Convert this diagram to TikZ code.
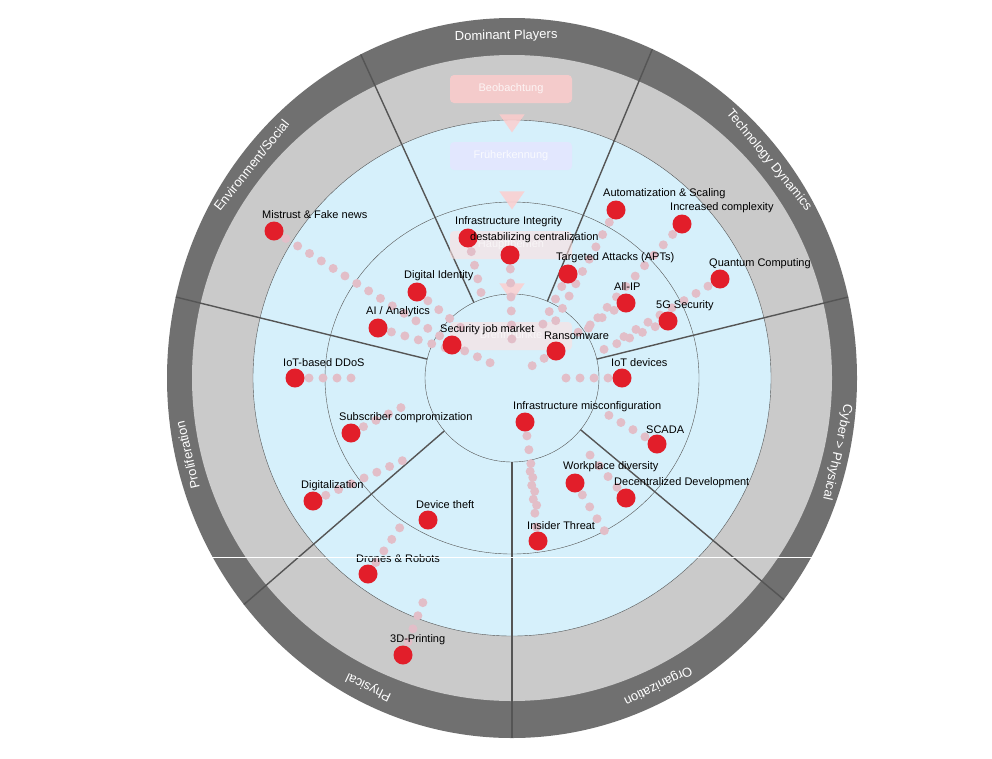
\documentclass[tikz,border=0pt]{standalone}
\usepackage{fontspec}
\setmainfont{Liberation Sans}
\usetikzlibrary{shapes.geometric}

\definecolor{ringdark}{RGB}{112,112,112}
\definecolor{ringlight}{RGB}{202,202,202}
\definecolor{zoneblue}{RGB}{214,240,251}
\definecolor{linegray}{RGB}{85,85,85}
\definecolor{riskred}{RGB}{226,30,42}
\definecolor{trailpink}{RGB}{226,190,200}

\tikzset{
  ringlabel/.style={text=white, font=\fontsize{13}{13}\selectfont},
  risk/.style={circle, fill=riskred, inner sep=0pt, minimum size=19pt},
  risklabel/.style={anchor=west, font=\fontsize{11}{11}\selectfont, inner sep=0pt},
  trail/.style={trailpink, line width=9pt, line cap=round, dash pattern=on 0pt off 14pt},
  stage/.style={rounded corners=4pt, minimum width=122pt, minimum height=28pt, text=white, font=\fontsize{11}{11}\selectfont},
  stagetip/.style={isosceles triangle, shape border rotate=-90, isosceles triangle apex angle=70, inner sep=0pt, minimum size=18pt, fill=red!20, opacity=0.8}
}

\begin{document}
\begin{tikzpicture}[x=1pt, y=-1pt]
  \useasboundingbox (0,0) rectangle (992,758);
  \fill[white] (0,0) rectangle (992,758);

  % rings
  \fill[ringdark] (512,378) ellipse [x radius=345, y radius=360];
  \fill[ringlight] (512,378) ellipse [x radius=320, y radius=323];
  \fill[zoneblue] (512,378) ellipse [x radius=259, y radius=258];
  \draw[linegray, thin] (512,378) ellipse [x radius=259, y radius=258];
  \draw[linegray, thin] (512,378) ellipse [x radius=187, y radius=176];
  \draw[linegray, thin] (512,378) ellipse [x radius=87, y radius=84];

  % sectors
  \foreach \a in {116,66,13,-38,-90,-141,167}
    \draw[linegray, line width=1.4pt] ({512+87*cos(\a)},{378-84*sin(\a)}) -- ({512+345*cos(\a)},{378-360*sin(\a)});

  % sector titles
  \foreach \a/\txt in {91/Dominant Players, 39.5/Technology Dynamics, -12.5/Cyber > Physical,
      -64/Organization, -115.5/Physical, -167/Proliferation, 141.5/{Environment/Social}}
    \node[ringlabel, rotate=\a-90] at ({512+333*cos(\a)},{378-342*sin(\a)}) {\txt};

  % faded process steps
  \node[stage, fill=red!20, opacity=0.8] (beob) at (511,89) {Beobachtung};
  \node[stagetip] (tip1) at (512,121) {};
  \node[stage, fill=blue!10, opacity=0.8] (frueh) at (511,156) {Früherkennung};
  \node[stagetip] (tip2) at (512,198) {};
  \node[stage, fill=red!12, opacity=0.6] (haupt) at (511,245) {Hauptthemen};
  \node[stagetip] (tip3) at (512,290) {};
  \node[stage, fill=red!12, opacity=0.6] (brenn) at (511,336) {Brennpunkte};

  % trails: name / dot / trail end
  \foreach \n/\pos/\fin in {
      mistrust/{274,231}/{462,350}, integrity/{468,238}/{484,305},
      central/{510,255}/{512,345}, scaling/{616,210}/{555,322},
      complex/{682,224}/{585,332}, apt/{568,274}/{540,330},
      quantum/{720,279}/{615,342}, identity/{417,292}/{470,335},
      allip/{626,303}/{572,336}, fiveg/{668,321}/{598,352},
      ai/{378,328}/{446,348}, jobs/{452,345}/{495,365},
      ransom/{556,351}/{522,372}, ddos/{295,378}/{362,378},
      iot/{622,378}/{562,378}, misconf/{525,422}/{538,515},
      subscr/{351,433}/{412,402}, scada/{657,444}/{600,410},
      diversity/{575,483}/{607,535}, decentral/{626,498}/{590,455},
      digital/{313,501}/{415,455}, insider/{538,541}/{530,470},
      drones/{368,574}/{405,520}, printing/{403,655}/{425,597}}
  {
    \coordinate (\n-pos) at (\pos);
    \coordinate (\n-end) at (\fin);
    \draw[trail] (\n-pos) -- (\n-end);
  }

  % risks: name / dot / label / text
  \foreach \n/\pos/\lab/\txt in {
      mistrust/{274,231}/{262,215}/Mistrust \& Fake news,
      integrity/{468,238}/{455,222}/Infrastructure Integrity,
      central/{510,255}/{470,238}/destabilizing centralization,
      scaling/{616,210}/{603,194}/Automatization \& Scaling,
      complex/{682,224}/{670,208}/Increased complexity,
      apt/{568,274}/{556,258}/Targeted Attacks (APTs),
      quantum/{720,279}/{709,264}/Quantum Computing,
      identity/{417,292}/{404,276}/Digital Identity,
      allip/{626,303}/{614,287}/All-IP,
      fiveg/{668,321}/{656,306}/5G Security,
      ai/{378,328}/{366,312}/{AI / Analytics},
      jobs/{452,345}/{440,330}/Security job market,
      ransom/{556,351}/{544,336}/Ransomware,
      ddos/{295,378}/{283,363}/IoT-based DDoS,
      iot/{622,378}/{611,363}/IoT devices,
      misconf/{525,422}/{513,407}/Infrastructure misconfiguration,
      subscr/{351,433}/{339,418}/Subscriber compromization,
      scada/{657,444}/{646,430}/SCADA,
      diversity/{575,483}/{563,467}/Workplace diversity,
      decentral/{626,498}/{614,483}/Decentralized Development,
      digital/{313,501}/{301,486}/Digitalization,
      theft/{428,520}/{416,505}/Device theft,
      insider/{538,541}/{527,526}/Insider Threat,
      drones/{368,574}/{356,559}/Drones \& Robots,
      printing/{403,655}/{390,640}/3D-Printing}
  {
    \node[risk] (\n) at (\pos) {};
    \node[risklabel] (\n-text) at (\lab) {\txt};
  }

  % scan line
  \draw[white, line width=0.8pt] (0,557) -- (826,557);
\end{tikzpicture}
\end{document}
